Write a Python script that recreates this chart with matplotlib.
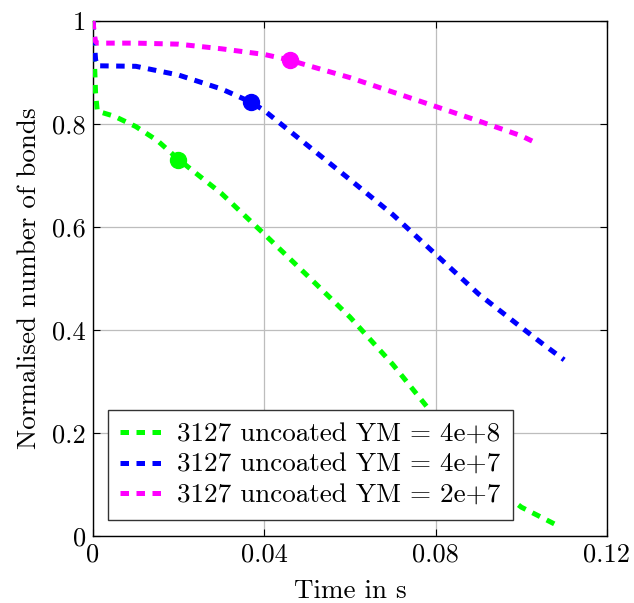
import matplotlib
matplotlib.use("Agg")
import matplotlib.pyplot as plt
from matplotlib.ticker import FuncFormatter

plt.rcParams['font.family'] = 'cmr10'
plt.rcParams['axes.formatter.use_mathtext'] = True

# data
t_green = [0, 0.0003, 0.0006, 0.001, 0.005, 0.01, 0.015, 0.02, 0.03, 0.04, 0.05,
           0.06, 0.07, 0.08, 0.085, 0.09, 0.095, 0.1, 0.105, 0.109]
b_green = [1.0, 0.93, 0.86, 0.825, 0.815, 0.795, 0.768, 0.731, 0.665, 0.586, 0.506,
           0.425, 0.333, 0.23, 0.18, 0.13, 0.088, 0.056, 0.035, 0.018]

t_blue = [0, 0.0003, 0.0006, 0.001, 0.01, 0.02, 0.03, 0.037, 0.04, 0.05, 0.06,
          0.07, 0.08, 0.09, 0.1, 0.105, 0.11]
b_blue = [1.0, 0.96, 0.925, 0.913, 0.912, 0.895, 0.868, 0.842, 0.826, 0.759, 0.692,
          0.624, 0.547, 0.47, 0.405, 0.373, 0.342]

t_mag = [0, 0.0003, 0.0006, 0.001, 0.01, 0.02, 0.03, 0.04, 0.046, 0.05, 0.06,
         0.07, 0.08, 0.09, 0.1, 0.103]
b_mag = [1.0, 0.975, 0.96, 0.957, 0.957, 0.955, 0.946, 0.935, 0.924, 0.914, 0.89,
         0.862, 0.834, 0.806, 0.777, 0.765]

mark_t = [0.0198, 0.0369, 0.046]
mark_b = [0.731, 0.842, 0.924]

labels = ['3127 uncoated YM = 4e+8', '3127 uncoated YM = 4e+7', '3127 uncoated YM = 2e+7']
colors = ['#00ff00', '#0000ff', '#ff00ff']

fig = plt.figure(figsize=(6.34, 6.03), dpi=100)
ax = fig.add_axes([0.1467, 0.1111, 0.8107, 0.8541])

series = [(t_green, b_green), (t_blue, b_blue), (t_mag, b_mag)]
for (t, b), c, lab, mt, mb in zip(series, colors, labels, mark_t, mark_b):
    ax.plot(t, b, color=c, lw=3.6, ls=(0, (1.7, 1.5)), label=lab, zorder=3)
    ax.plot(mt, mb, 'o', color=c, ms=11.5, zorder=4)

ax.set_xlim(0, 0.12)
ax.set_ylim(0, 1)
ax.set_xticks([0, 0.04, 0.08, 0.12])
ax.set_yticks([0, 0.2, 0.4, 0.6, 0.8, 1])

def fmt(v, pos):
    s = ('%.2f' % v).rstrip('0').rstrip('.')
    return s
ax.xaxis.set_major_formatter(FuncFormatter(fmt))
ax.yaxis.set_major_formatter(FuncFormatter(fmt))

ax.grid(True, color='#bdbdbd', lw=0.9)
ax.set_axisbelow(True)
ax.tick_params(direction='in', top=True, right=True, labelsize=19, length=5, pad=5)
for s in ax.spines.values():
    s.set_linewidth(1.0)

ax.set_xlabel('Time in s', fontsize=19.5, labelpad=9)
ax.set_ylabel('Normalised number of bonds', fontsize=19.5, labelpad=8)

leg = ax.legend(loc='lower left', bbox_to_anchor=(0.029, 0.031), fontsize=19.5,
                fancybox=False, framealpha=1, edgecolor='#333333',
                handlelength=1.6, handletextpad=0.5, borderpad=0.45,
                borderaxespad=0, labelspacing=0.25)
leg.get_frame().set_linewidth(1.0)

fig.savefig('out.png', dpi=100)
